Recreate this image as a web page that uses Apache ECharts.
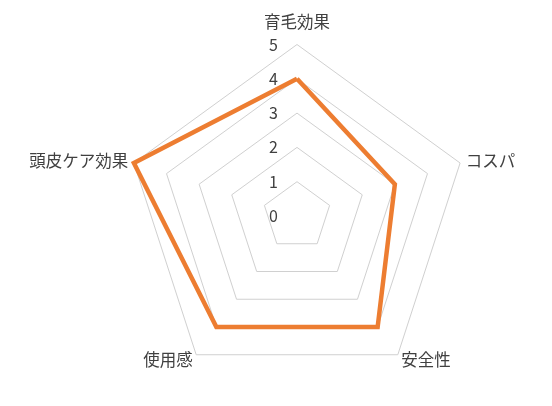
<!DOCTYPE html>
<html><head><meta charset="utf-8">
<script src="https://cdn.jsdelivr.net/npm/echarts@6/dist/echarts.min.js"></script>
<style>html,body{margin:0;padding:0;background:#fff}#c{width:552px;height:406px}</style>
</head><body><div id="c"></div>
<script>
// Indicators listed in the order ECharts draws them (counter-clockwise from top)
const categories = ['育毛効果', '頭皮ケア効果', '使用感', '安全性', 'コスパ'];
const values = [4, 5, 4, 4, 3];
const axisMin = 0, axisMax = 5, axisSplit = 5;

const chart = echarts.init(document.getElementById('c'), null, {renderer: 'canvas'});
const FONT = '"Noto Sans CJK JP", "Noto Sans", sans-serif';
chart.setOption({
  animation: false,
  backgroundColor: '#fff',
  radar: {
    center: [297, 216],
    radius: 171.5,
    startAngle: 90,
    shape: 'polygon',
    splitNumber: axisSplit,
    nameGap: 6,
    axisName: {
      color: '#404040',
      fontFamily: FONT,
      fontSize: 16.5,
      formatter: function (name) {
        return name === categories[0] ? '{top|' + name + '}' : name;
      },
      rich: { top: { padding: [0, 0, 9, 0], fontFamily: FONT, fontSize: 16.5, color: '#404040' } }
    },
    axisLine: { show: false },
    axisTick: { show: false },
    axisLabel: { show: false },
    splitLine: { lineStyle: { color: '#d0d0d0', width: 1 } },
    splitArea: { show: false },
    indicator: categories.map((c, i) => ({
      name: c, min: axisMin, max: axisMax,
      axisLabel: i === 0 ? { show: true, color: '#404040', fontFamily: FONT, fontSize: 16, margin: 19, showMinLabel: true, showMaxLabel: true } : { show: false }
    }))
  },
  series: [{
    type: 'radar',
    symbol: 'none',
    lineStyle: { color: '#ED7D31', width: 4.5, join: 'miter' },
    itemStyle: { color: '#ED7D31' },
    data: [{ value: values }]
  }]
});
</script></body></html>
